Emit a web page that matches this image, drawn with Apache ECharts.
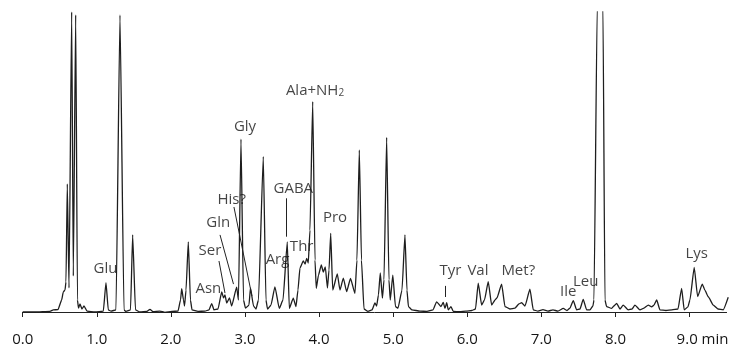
<!DOCTYPE html>
<html>
<head>
<meta charset="utf-8">
<script src="https://cdn.jsdelivr.net/npm/echarts@6/dist/echarts.min.js"></script>
<style>
  html, body { margin: 0; padding: 0; background: #fff; }
  #chart { width: 735px; height: 348px; }
</style>
</head>
<body>
<div id="chart"></div>
<script>
// retention time (min) and detector signal (arbitrary units, baseline = 0)
const timeMin = [
  0.000, 0.166, 0.368, 0.413, 0.476, 0.526, 0.548, 0.571, 0.584, 0.602,
  0.625, 0.661, 0.683, 0.715, 0.739, 0.753, 0.773, 0.800, 0.827, 0.868,
  0.976, 1.088, 1.124, 1.155, 1.192, 1.259, 1.313, 1.367, 1.394, 1.455,
  1.484, 1.522, 1.583, 1.677, 1.718, 1.758, 1.852, 1.920, 2.015, 2.096,
  2.130, 2.146, 2.170, 2.184, 2.204, 2.235, 2.264, 2.285, 2.366, 2.460,
  2.514, 2.551, 2.582, 2.636, 2.686, 2.710, 2.730, 2.753, 2.791, 2.820,
  2.888, 2.912, 2.946, 2.980, 3.007, 3.054, 3.074, 3.115, 3.148, 3.182,
  3.247, 3.283, 3.304, 3.351, 3.404, 3.463, 3.513, 3.571, 3.598, 3.652,
  3.688, 3.715, 3.742, 3.787, 3.812, 3.833, 3.854, 3.877, 3.914, 3.945,
  3.962, 3.992, 4.030, 4.057, 4.084, 4.113, 4.134, 4.157, 4.184, 4.246,
  4.282, 4.327, 4.372, 4.424, 4.484, 4.511, 4.543, 4.572, 4.606, 4.660,
  4.714, 4.754, 4.777, 4.801, 4.826, 4.855, 4.876, 4.912, 4.943, 4.961,
  4.995, 5.031, 5.065, 5.119, 5.159, 5.186, 5.206, 5.254, 5.362, 5.456,
  5.537, 5.587, 5.645, 5.676, 5.699, 5.722, 5.744, 5.780, 5.811, 5.901,
  5.982, 6.063, 6.111, 6.148, 6.194, 6.232, 6.283, 6.329, 6.374, 6.401,
  6.464, 6.509, 6.576, 6.644, 6.698, 6.734, 6.779, 6.846, 6.891, 6.954,
  7.022, 7.089, 7.157, 7.224, 7.296, 7.346, 7.386, 7.431, 7.476, 7.521,
  7.565, 7.611, 7.656, 7.696, 7.710, 7.754, 7.831, 7.858, 7.881, 7.949,
  7.980, 8.016, 8.061, 8.105, 8.173, 8.223, 8.263, 8.331, 8.385, 8.443,
  8.489, 8.520, 8.556, 8.601, 8.682, 8.763, 8.844, 8.893, 8.928, 8.978,
  9.005, 9.063, 9.109, 9.171, 9.207, 9.252, 9.320, 9.383, 9.454, 9.522
];
const signal = [
  0.0, 0.0, 0.2, 0.7, 0.8, 4.0, 6.7, 7.3, 10.0, 42.7,
  8.0, 100.0, 12.0, 99.0, 4.0, 1.3, 2.7, 1.0, 2.0, 0.3,
  0.0, 0.3, 9.8, 0.7, 0.3, 0.7, 99.0, 0.7, 0.2, 0.7,
  25.7, 0.7, 0.0, 0.2, 0.9, 0.1, 0.3, -0.1, 0.2, 0.3,
  4.0, 7.8, 4.0, 2.0, 7.3, 23.4, 4.0, 0.7, 0.2, 0.3,
  0.7, 2.8, 0.7, 1.0, 6.7, 4.7, 5.7, 3.0, 4.7, 2.0,
  8.3, 4.0, 57.6, 4.0, 1.3, 2.3, 8.0, 2.0, 1.0, 4.0,
  51.8, 4.0, 1.0, 2.3, 8.4, 1.2, 4.0, 23.4, 1.2, 4.6,
  1.8, 7.3, 14.7, 17.0, 16.0, 17.9, 16.3, 27.3, 70.1, 17.3,
  7.9, 12.3, 15.7, 13.3, 15.0, 8.0, 14.0, 26.2, 7.3, 12.7,
  7.3, 11.3, 6.8, 11.2, 6.2, 17.3, 54.0, 17.3, 1.0, 0.2,
  0.7, 3.0, 2.0, 5.7, 13.0, 4.6, 10.7, 58.2, 10.7, 4.0,
  12.3, 1.8, 1.3, 7.3, 25.7, 7.3, 1.8, 0.7, 0.3, 0.2,
  0.7, 3.4, 1.8, 3.2, 1.2, 3.1, 0.7, 1.8, 0.2, 0.1,
  0.3, 0.5, 1.0, 9.6, 2.3, 4.0, 10.1, 2.3, 4.0, 4.7,
  9.3, 1.8, 1.0, 1.3, 2.7, 3.1, 2.0, 7.6, 0.7, 0.3,
  0.8, 0.3, 0.7, 0.3, 1.2, 0.5, 1.3, 3.8, 0.7, 1.0,
  4.2, 0.7, 0.7, 2.0, 4.0, 102.0, 102.0, 4.0, 1.8, 1.2,
  2.0, 2.9, 1.0, 2.3, 0.7, 1.0, 2.3, 0.7, 1.3, 2.3,
  1.7, 2.3, 4.0, 0.7, 0.5, 0.7, 1.0, 7.9, 0.7, 1.7,
  4.0, 14.9, 5.1, 9.3, 7.3, 5.1, 2.3, 1.0, 0.7, 4.9
];

// peak annotations: text, position (min, signal)
const peakNames = ['Glu', 'Asn', 'Ser', 'Gln', 'His?', 'Gly', 'GABA', 'Arg', 'Thr', 'Pro',
                   'Ala+NH{s|2}', 'Tyr', 'Val', 'Met?', 'Ile', 'Leu', 'Lys'];
const peakLabelTime = [1.117, 2.505, 2.528, 2.640, 2.820, 3.000, 3.652, 3.439, 3.765, 4.215,
                       3.945, 5.773, 6.144, 6.688, 7.363, 7.599, 9.096];
const peakLabelLevel = [14.3, 7.7, 20.5, 29.7, 37.3, 61.7, 41.0, 17.3, 21.8, 31.5,
                        73.8, 13.7, 13.7, 13.7, 6.7, 10.0, 19.4];

// leader lines from label to peak: [t1, v1, t2, v2]
const leaderLines = [
  [2.649, 17.0, 2.730, 6.3],   // Ser
  [2.663, 25.7, 2.845, 9.3],   // Gln
  [2.851, 35.0, 3.094, 5.3],   // His?
  [3.553, 37.9, 3.553, 25.1],  // GABA
  [5.699, 8.7, 5.699, 5.0]     // Tyr
];

const tickValues = [0, 1, 2, 3, 4, 5, 6, 7, 8, 9];

const chart = echarts.init(document.getElementById('chart'));
const textColor = '#151515';
const fontFamily = '"Open Sans", "Noto Sans", sans-serif';

const option = {
  animation: false,
  grid: { left: 22.7, right: 8.4, top: 12, bottom: 21 },
  xAxis: {
    type: 'value',
    min: 0,
    max: 9.5,
    interval: 1,
    splitLine: { show: false },
    axisLine: { show: true, lineStyle: { color: '#222', width: 1 } },
    axisTick: { show: true, customValues: tickValues, length: 5, lineStyle: { color: '#222' } },
    axisLabel: {
      customValues: tickValues,
      color: textColor,
      fontFamily: fontFamily,
      fontWeight: 500,
      fontSize: 15,
      margin: 5,
      formatter: function (v) {
        if (v === 9) return '{s| }9.0 min';
        return v.toFixed(1);
      },
      rich: {
        s: { width: 26 }
      }
    }
  },
  yAxis: {
    type: 'value',
    min: -5,
    max: 100,
    show: false,
    splitLine: { show: false }
  },
  series: [
    {
      type: 'line',
      data: timeMin.map((t, i) => [t, signal[i]]),
      showSymbol: false,
      symbol: 'none',
      smooth: 0.15,
      smoothMonotone: 'x',
      clip: true,
      lineStyle: { color: '#1e1e1e', width: 1.3 },
      z: 2,
      markLine: {
        silent: true,
        symbol: 'none',
        label: { show: false },
        lineStyle: { color: '#222', width: 1, type: 'solid' },
        data: leaderLines.map(l => [{ coord: [l[0], l[1]] }, { coord: [l[2], l[3]] }])
      }
    },
    {
      type: 'scatter',
      symbolSize: 0,
      silent: true,
      z: 5,
      data: peakNames.map((n, i) => [peakLabelTime[i], peakLabelLevel[i], n]),
      label: {
        show: true,
        position: 'inside',
        color: textColor,
        fontFamily: fontFamily,
        fontWeight: 500,
        fontSize: 15,
        formatter: p => p.data[2],
        rich: {
          s: { fontSize: 10, fontWeight: 500, fontFamily: fontFamily, color: textColor, verticalAlign: 'bottom', padding: [6, 0, 0, 0] }
        }
      }
    }
  ]
};

chart.setOption(option);
window.addEventListener('resize', () => chart.resize());
</script>
</body>
</html>
